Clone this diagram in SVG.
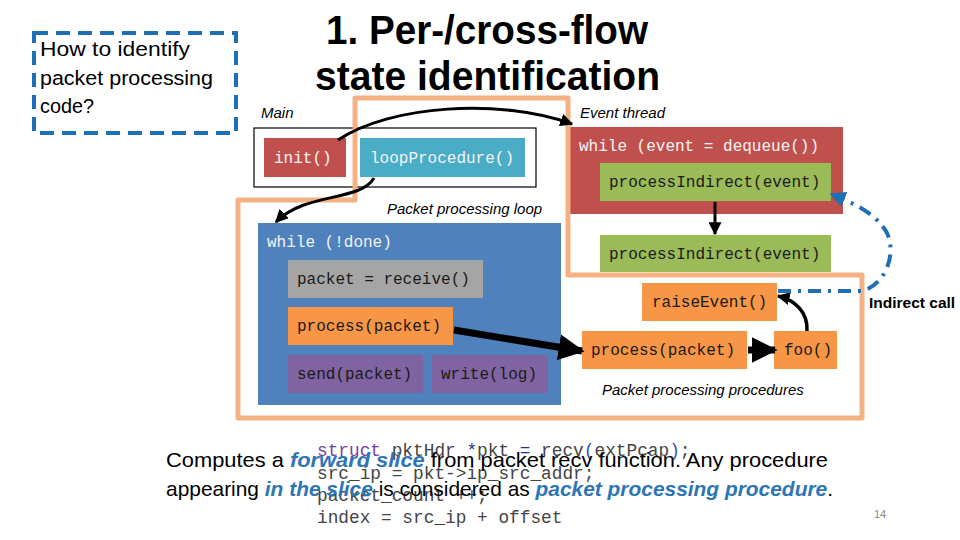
<svg xmlns="http://www.w3.org/2000/svg" width="960" height="540" viewBox="0 0 960 540">
<defs>
<style>
.sans{font-family:"Liberation Sans","Open Sans",Arial,sans-serif}
.ital{font-family:"Liberation Sans",Arial,sans-serif;font-style:italic;font-size:15px;fill:#000}
.mono{font-family:"Liberation Mono","DejaVu Sans Mono",monospace;font-size:16px}
.code{font-family:"Liberation Mono","Courier New",monospace;font-size:17.8px;fill:#444}
.w{fill:#F4F4F4}
.k{fill:#1a1a1a}
.red{fill:#C0504D}
.teal{fill:#4BACC6}
.green{fill:#9BBB59}
.orange{fill:#F79646}
.blue{fill:#4F81BD}
.gray{fill:#A5A5A5}
.purple{fill:#8064A2}
.blt{fill:#2E75B6;font-style:italic;font-weight:bold}
.conn{fill:none;stroke:#000}
</style>
<marker id="ah" viewBox="0 0 10 10" refX="9" refY="5" markerUnits="userSpaceOnUse" markerWidth="13" markerHeight="13" orient="auto">
<path d="M0,0 L10,5 L0,10 z" fill="#000"/>
</marker>
<marker id="ahBig" viewBox="0 0 10 10" refX="9" refY="5" markerUnits="userSpaceOnUse" markerWidth="26" markerHeight="26" orient="auto">
<path d="M0,0 L10,5 L0,10 z" fill="#000"/>
</marker>
<marker id="ahBlue" viewBox="0 0 10 10" refX="9" refY="5" markerUnits="userSpaceOnUse" markerWidth="16" markerHeight="16" orient="auto">
<path d="M0,0 L10,5 L0,10 z" fill="#1F6FB5"/>
</marker>
</defs>

<rect width="960" height="540" fill="#fff"/>

<g id="question">
<rect x="34" y="33" width="202" height="100" fill="none" stroke="#1F6FB5" stroke-width="4" stroke-dasharray="14 8"/>
<text class="sans" font-size="20" x="40" y="56" textLength="150" lengthAdjust="spacingAndGlyphs">How to identify</text>
<text class="sans" font-size="20" x="40" y="85" textLength="173" lengthAdjust="spacingAndGlyphs">packet processing</text>
<text class="sans" font-size="20" x="40" y="113" textLength="54" lengthAdjust="spacingAndGlyphs">code?</text>
</g>

<g id="title">
<text class="sans" font-size="41" font-weight="bold" x="326" y="44" textLength="322" lengthAdjust="spacingAndGlyphs">1. Per-/cross-flow</text>
<text class="sans" font-size="41" font-weight="bold" x="315" y="90" textLength="345" lengthAdjust="spacingAndGlyphs">state identification</text>
</g>

<g id="main">
<text class="ital" x="261" y="118">Main</text>
<rect x="254" y="128" width="282" height="59" fill="#fff" stroke="#000" stroke-width="1.2"/>
</g>
<g id="init">
<rect class="red" x="264" y="138" width="82" height="39"/>
<text class="mono w" x="274" y="163">init()</text>
</g>
<g id="loopProcedure">
<rect class="teal" x="360" y="138" width="165" height="39"/>
<text class="mono w" x="370" y="163">loopProcedure()</text>
</g>

<g id="eventThread">
<text class="ital" x="580" y="118">Event thread</text>
<rect class="red" x="570" y="127" width="273" height="87"/>
<text class="mono w" x="579" y="151">while (event = dequeue())</text>
</g>
<g id="processIndirect1">
<rect class="green" x="600" y="163" width="231" height="38"/>
<text class="mono k" x="609" y="187">processIndirect(event)</text>
</g>
<g id="processIndirect2">
<rect class="green" x="600" y="235" width="231" height="37"/>
<text class="mono k" x="609" y="259">processIndirect(event)</text>
</g>

<g id="loop">
<text class="ital" x="387" y="214">Packet processing loop</text>
<rect class="blue" x="258" y="223" width="303" height="182"/>
<text class="mono w" x="267" y="247">while (!done)</text>
</g>
<g id="receive">
<rect class="gray" x="288" y="260" width="195" height="38"/>
<text class="mono k" x="297" y="284">packet = receive()</text>
</g>
<g id="processLeft">
<rect class="orange" x="288" y="307" width="165" height="38"/>
<text class="mono k" x="297" y="331">process(packet)</text>
</g>
<g id="send">
<rect class="purple" x="288" y="355" width="135" height="38"/>
<text class="mono k" x="297" y="379">send(packet)</text>
</g>
<g id="write">
<rect class="purple" x="432" y="355" width="116" height="38"/>
<text class="mono k" x="441" y="379">write(log)</text>
</g>

<g id="raiseEvent">
<rect class="orange" x="642" y="283" width="135" height="38"/>
<text class="mono k" x="652" y="307">raiseEvent()</text>
</g>
<g id="processRight">
<rect class="orange" x="582" y="331" width="165" height="38"/>
<text class="mono k" x="591" y="355">process(packet)</text>
</g>
<g id="foo">
<rect class="orange" x="774" y="331" width="63" height="38"/>
<text class="mono k" x="784" y="355">foo()</text>
</g>
<g id="procLabel">
<text class="ital" x="602" y="395">Packet processing procedures</text>
</g>

<g id="sliceOutline">
<path d="M355,98 L568,98 L568,275 L862,275 L862,418 L238,418 L238,200 L355,200 Z" fill="none" stroke="#F4B183" stroke-width="5" stroke-linejoin="round"/>
</g>

<g id="connectors">
<path class="conn" stroke-width="3" d="M338,140 C390,105 500,98 572,124" marker-end="url(#ah)"/>
<path class="conn" stroke-width="3" d="M374,178 C360,202 305,192 276,222" marker-end="url(#ah)"/>
<path class="conn" stroke-width="3" d="M715,202 L715,234" marker-end="url(#ah)"/>
<path class="conn" stroke-width="7" d="M454,330 L582,351" marker-end="url(#ahBig)"/>
<path class="conn" stroke-width="7" d="M748,350 L775,350" marker-end="url(#ahBig)"/>
<path class="conn" stroke-width="3.5" d="M807,331 C808,312 795,300 778,296" marker-end="url(#ah)"/>
<path d="M778,291 L862,291 C885,285 897,255 887,233 C877,215 858,205 831,194" fill="none" stroke="#1F6FB5" stroke-width="4" stroke-dasharray="13 7 3 7" marker-end="url(#ahBlue)"/>
<text class="sans" font-size="15.5" x="869" y="308" font-weight="600">Indirect call</text>
</g>

<g id="code">
<text class="code" x="317" y="456"><tspan fill="#7A3FA0">struct</tspan> pktHdr <tspan fill="#1F2F8F">*</tspan>pkt <tspan fill="#1F2F8F">=</tspan> recv<tspan fill="#3050C0">(</tspan>extPcap<tspan fill="#3050C0">)</tspan>;</text>
<text class="code" x="317" y="479">src_ip = pkt-&gt;ip_src_addr;</text>
<text class="code" x="317" y="501">packet_count ++;</text>
<text class="code" x="317" y="523">index = src_ip + offset</text>
</g>

<g id="caption">
<text class="sans" font-size="21" x="166" y="467" textLength="662" lengthAdjust="spacingAndGlyphs">Computes a <tspan class="blt">forward slice</tspan> from packet recv function. Any procedure</text>
<text class="sans" font-size="21" x="166" y="496" textLength="667" lengthAdjust="spacingAndGlyphs">appearing <tspan class="blt">in the slice</tspan> is considered as <tspan class="blt">packet processing procedure</tspan>.</text>
<text class="sans" font-size="11" x="874" y="518" fill="#888">14</text>
</g>
</svg>
